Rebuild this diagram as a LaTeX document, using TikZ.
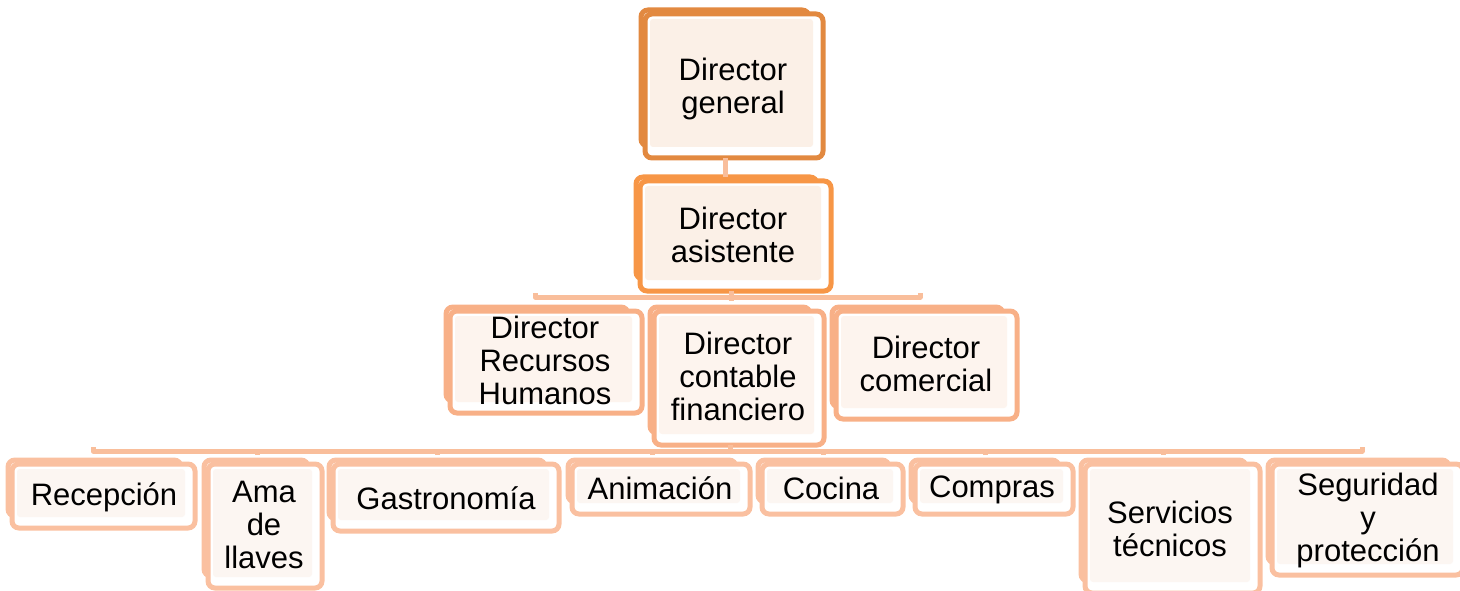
\documentclass[tikz,border=0pt]{standalone}
\usepackage{fontspec}
\setmainfont{Liberation Sans}
\usetikzlibrary{fit}

\definecolor{topline}{RGB}{226,137,64}
\definecolor{asstline}{RGB}{247,150,70}
\definecolor{midline}{RGB}{248,176,135}
\definecolor{lowline}{RGB}{250,192,160}
\definecolor{topfill}{RGB}{251,240,231}
\definecolor{midfill}{RGB}{253,244,238}
\definecolor{lowfill}{RGB}{252,246,242}
\definecolor{wire}{RGB}{249,190,155}

\tikzset{
  frameline/.style={draw=#1, line width=5pt, rounded corners=7pt},
  area/.style={inner sep=0pt, draw=none},
  lbl/.style={align=center, inner sep=0pt, font=\fontsize{31}{33}\selectfont},
  wireline/.style={draw=wire, line width=5pt, line join=round},
}

% #1 name, #2-#5 outer corners, #6 stroke colour, #7 fill colour,
% #8 text centre, #9 text
\newcommand{\orgbox}[9]{%
  \node[area, fit={(#2,#3) (#4,#5)}] (#1) {};
  \draw[frameline=#6] (#2,#3) rectangle (#4-14,#5-12);
  \draw[frameline=#6, fill=white] (#2+4,#3+4) rectangle (#4,#5);
  \fill[#7, rounded corners=3pt] (#2+9,#3+9) rectangle (#4-10,#5-11);
  \node[lbl] (#1-t) at (#8) {#9};
}

\begin{document}
\begin{tikzpicture}[x=1pt, y=-1pt]
\useasboundingbox (0,0) rectangle (1460,591);

% boxes
\orgbox{dg}{641}{10}{823}{158}{topline}{topfill}{733,89}{Director\\general}
\orgbox{da}{636}{177}{831}{291}{asstline}{topfill}{733,235}{Director\\asistente}

\orgbox{rh}{446}{307}{642}{413}{midline}{midfill}{545,360}{Director\\Recursos\\Humanos}
\orgbox{cf}{650}{307}{824}{445}{midline}{midfill}{738,376}{Director\\contable\\financiero}
\orgbox{dc}{832}{307}{1017}{419}{midline}{midfill}{926,364}{Director\\comercial}

\orgbox{rec}{8}{460}{195}{528}{lowline}{lowfill}{104,497}{Recepción}
\orgbox{ama}{204}{460}{322}{588}{lowline}{lowfill}{264,525}{Ama\\de\\llaves}
\orgbox{gas}{329}{460}{559}{531}{lowline}{lowfill}{446,498}{Gastronomía}
\orgbox{ani}{568}{460}{750}{514}{lowline}{lowfill}{660,488}{Animación}
\orgbox{coc}{758}{460}{903}{514}{lowline}{lowfill}{831,488}{Cocina}
\orgbox{com}{911}{460}{1073}{514}{lowline}{lowfill}{992,490}{Compras}
\orgbox{ser}{1081}{460}{1260}{593}{lowline}{lowfill}{1170,529}{Servicios\\técnicos}
\orgbox{seg}{1268}{460}{1463}{575}{lowline}{lowfill}{1368,520}{Seguridad\\y\\protección}

% connector between the two top boxes
\coordinate (t1) at (725,0);
\draw[wireline] (dg.south -| t1) -- (da.north -| t1);

% first bus
\coordinate (b1l) at (535,297);
\coordinate (b1m) at (731,297);
\coordinate (b1r) at (920,297);
\draw[wireline] (da.south -| b1m) -- (b1m);
\draw[wireline] ([yshift=4pt]b1l) -- (b1l) -- (b1r) -- ([yshift=4pt]b1r);
\draw[wireline] (b1m) -- ++(0,4);

% second bus
\coordinate (b2l) at (93,451);
\coordinate (b2m) at (730,451);
\coordinate (b2r) at (1362,451);
\draw[wireline] (cf.south -| b2m) -- (b2m);
\draw[wireline] ([yshift=4pt]b2l) -- (b2l) -- (b2r) -- ([yshift=4pt]b2r);
\foreach \x in {257,437,652,823,985,1163}
  \draw[wireline] (\x,451) -- (\x,455);
\end{tikzpicture}
\end{document}
